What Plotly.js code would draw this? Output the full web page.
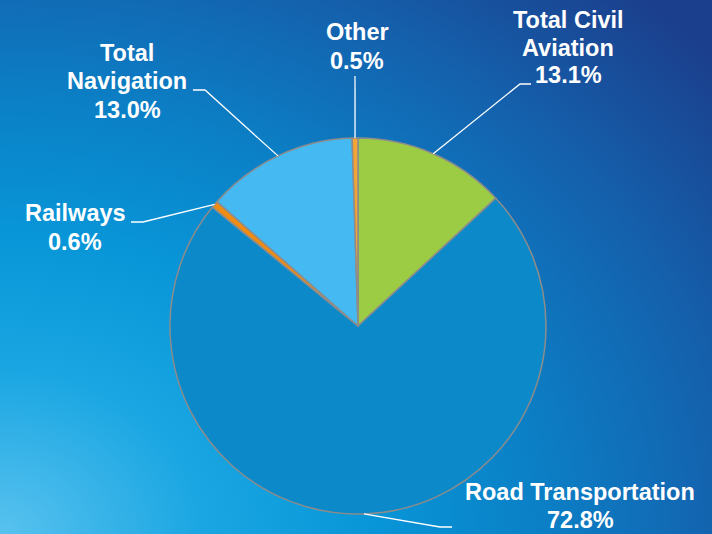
<!DOCTYPE html>
<html>
<head>
<meta charset="utf-8">
<script src="https://cdn.plot.ly/plotly-3.0.1.min.js"></script>
<style>
  html, body { margin: 0; padding: 0; }
  body {
    width: 712px; height: 534px; overflow: hidden;
    background: radial-gradient(ellipse 130% 140% at 0% 100%, #58c2ef 0%, #1aa6e2 22%, #0896d8 40%, #0b80c6 58%, #1462ae 78%, #1b3f8c 100%);
  }
  #chart { width: 712px; height: 534px; }
</style>
</head>
<body>
<div id="chart"></div>
<script>
// ---- data ----
const categories = ['Total Civil Aviation', 'Road Transportation', 'Railways', 'Total Navigation', 'Other'];
const shares = [13.1, 72.8, 0.6, 13.0, 0.5];
const labelLines = [['Total Civil', 'Aviation'], ['Road Transportation'], ['Railways'], ['Total', 'Navigation'], ['Other']];
const sliceColors = ['#9ccb44', '#0b89c9', '#f08c12', '#45b9f1', '#f3a437'];

// ---- layout geometry (pixels) ----
const W = 712, H = 534;
const CX = 358, CY = 326, R = 188;
const LINE_GAP = 28;
const labelPos = [ [568, 47.5], [580, 505.5], [75, 227.5], [127, 81.5], [357, 46.5] ];
const elbows = [
  [[520, 84], [531, 84]],
  [[440, 527], [452, 527]],
  [[143, 222], [131, 222]],
  [[205, 90], [193, 90]],
  [[355, 76]]
];

const px = x => x / W;
const py = y => 1 - y / H;

const total = shares.reduce((a, b) => a + b, 0);
let cum = 0;
const shapes = [];
const annotations = [];
shares.forEach((v, i) => {
  const mid = (cum + v / 2) / total * 2 * Math.PI;
  cum += v;
  const ex = CX + R * Math.sin(mid);
  const ey = CY - R * Math.cos(mid);
  let path = 'M ' + px(ex) + ' ' + py(ey);
  elbows[i].forEach(p => { path += ' L ' + px(p[0]) + ' ' + py(p[1]); });
  shapes.push({ type: 'path', xref: 'paper', yref: 'paper', path: path,
    line: { color: '#ffffff', width: 1.3 } });
  const lines = labelLines[i].concat([v.toFixed(1) + '%']);
  const n = lines.length;
  lines.forEach((t, j) => {
    const yy = labelPos[i][1] + (j - (n - 1) / 2) * LINE_GAP;
    annotations.push({
      xref: 'paper', yref: 'paper', x: px(labelPos[i][0]), y: py(yy),
      xanchor: 'center', yanchor: 'middle', align: 'center', showarrow: false,
      text: '<b>' + t + '</b>',
      font: { family: 'Liberation Sans, Arial, sans-serif', size: 23.5, color: '#ffffff' }
    });
  });
});

const trace = {
  type: 'pie',
  labels: categories,
  values: shares,
  sort: false,
  direction: 'clockwise',
  rotation: 0,
  textinfo: 'none',
  hoverinfo: 'label+percent',
  marker: { colors: sliceColors, line: { color: '#8c8c8c', width: 1.5 } },
  domain: { x: [(CX - R) / W, (CX + R) / W], y: [1 - (CY + R) / H, 1 - (CY - R) / H] },
  showlegend: false
};

const layout = {
  width: W, height: H,
  margin: { l: 0, r: 0, t: 0, b: 0 },
  paper_bgcolor: 'rgba(0,0,0,0)',
  plot_bgcolor: 'rgba(0,0,0,0)',
  showlegend: false,
  shapes: shapes,
  annotations: annotations
};

Plotly.newPlot('chart', [trace], layout, { displayModeBar: false, staticPlot: true });
</script>
</body>
</html>
